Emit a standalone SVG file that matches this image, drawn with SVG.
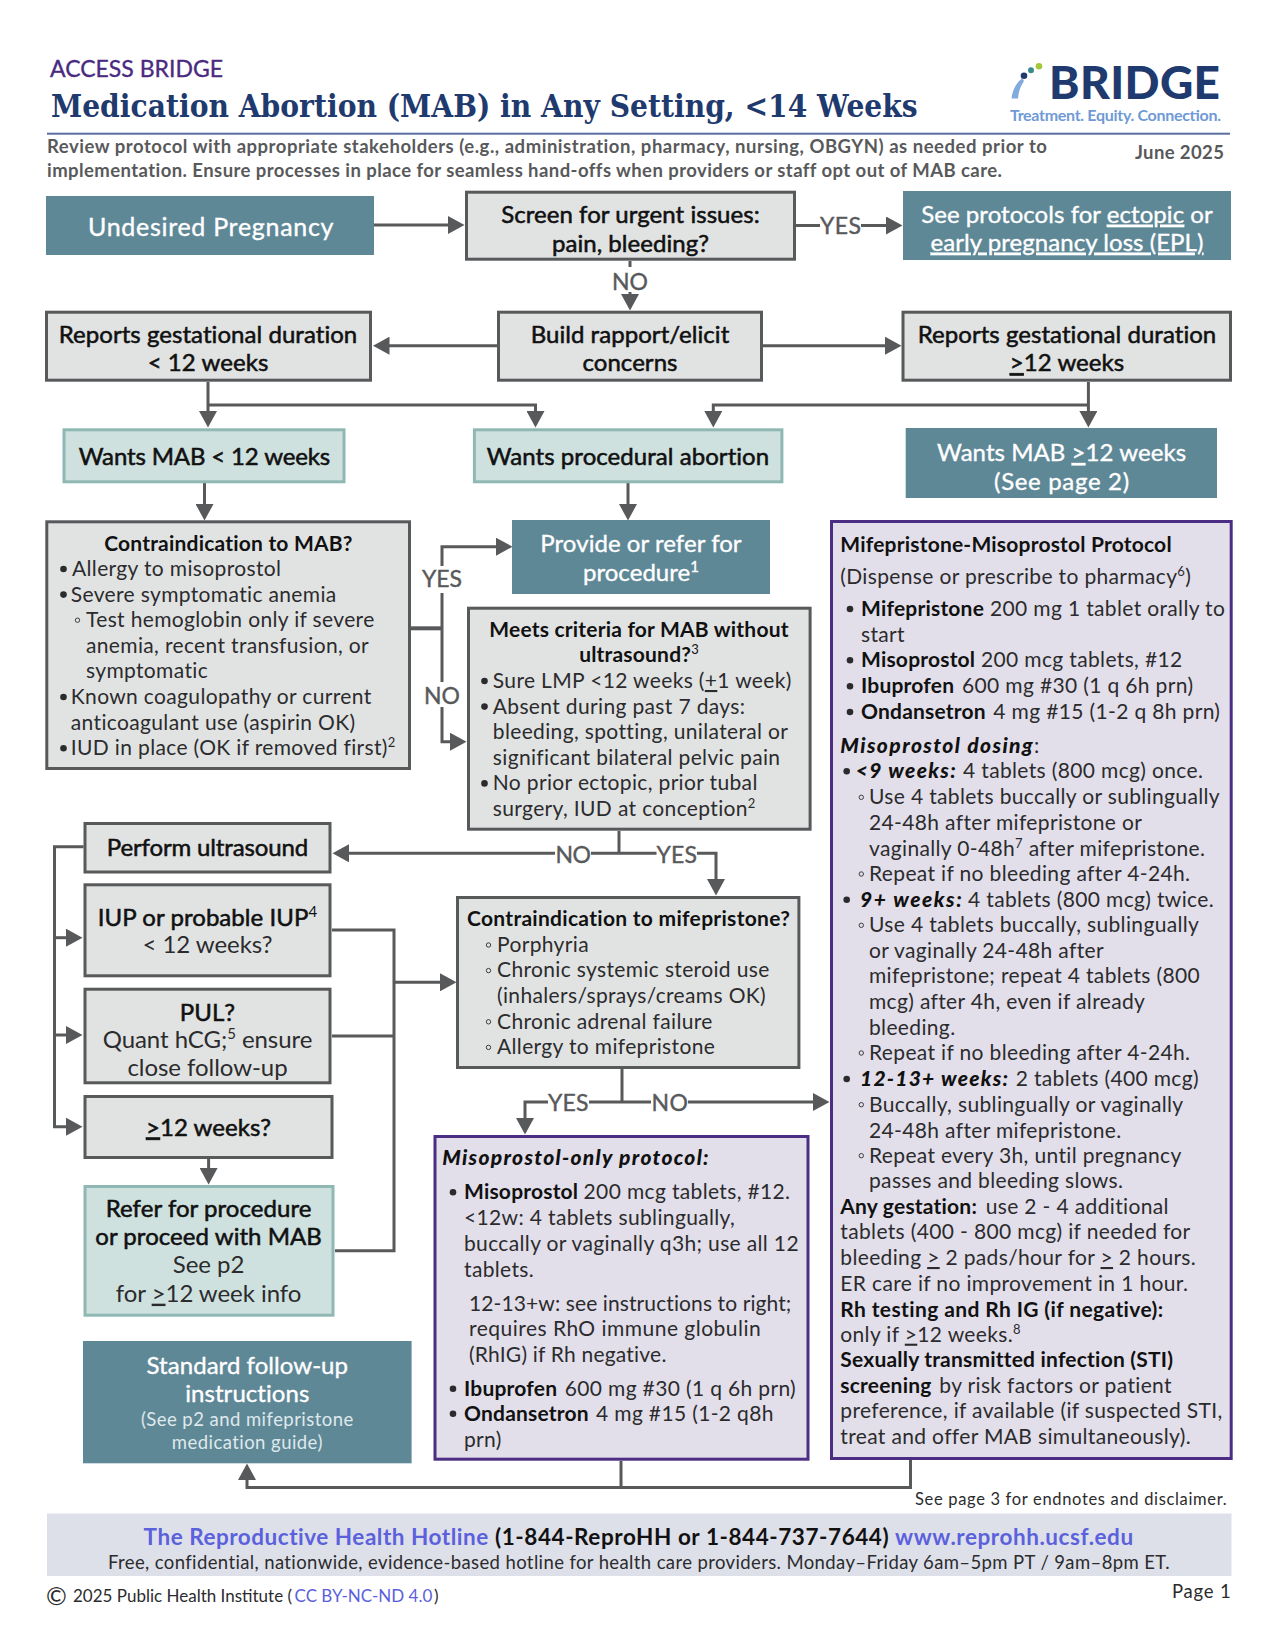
<svg xmlns="http://www.w3.org/2000/svg" width="1277" height="1652" viewBox="0 0 1277 1652">
<style>
text{font-family:Lato,"Liberation Sans",sans-serif;fill:#2b2b2d;font-size:21px;letter-spacing:.35px}
.c{text-anchor:middle}
.h{font-size:24px;fill:#111;stroke:#111;stroke-width:.55px;letter-spacing:.05px}
.m{font-size:24px;letter-spacing:-.05px}
.w{font-size:24px;fill:#fff;stroke:#fff;stroke-width:.35px;letter-spacing:.05px}
.t{font-size:21px;font-weight:700;fill:#111;letter-spacing:.2px}
.l{font-size:23px;fill:#58595b;stroke:#58595b;stroke-width:.4px;letter-spacing:0}
.s{font-weight:700;fill:#111;letter-spacing:.2px}
.si{font-weight:900;font-style:italic;fill:#111;letter-spacing:0}
.u{text-decoration:underline}
.box{fill:#e1e3e3;stroke:#58595b;stroke-width:3}
.teal{fill:#5f8897}
.mint{fill:#cfe1df;stroke:#8fb8b4;stroke-width:3}
.lav{fill:#e2dfea;stroke:#4b2e83;stroke-width:3}
.cn{fill:none;stroke:#58595b;stroke-width:3}
.ar{fill:#58595b}
.dot{fill:#2b2b2d}
.sub{fill:none;stroke:#2b2b2d;stroke-width:.9}
.gray{fill:#58595b;font-weight:700;font-size:18.5px;letter-spacing:.1px}
.blue{fill:#5b60dd}
.sup{font-size:13px}
.small{font-size:18.5px;fill:#dfe9ec;letter-spacing:.45px}
</style>
<defs>
<marker id="a" markerUnits="userSpaceOnUse" markerWidth="17" markerHeight="18" viewBox="0 0 17 18" refX="1" refY="9" orient="auto"><polygon class="ar" points="0,0 16.5,9 0,18"/></marker>
</defs>

<g id="header">
<text x="50" y="77" style="font-size:23px;fill:#4a2a80;stroke:#4a2a80;stroke-width:.35px;letter-spacing:0" textLength="173">ACCESS BRIDGE</text>
<text transform="translate(51 117) scale(.881 1)" style="font-family:'DejaVu Serif',serif;font-weight:700;font-size:32px;fill:#1f3a6e;letter-spacing:0">Medication Abortion (MAB) in Any Setting, &lt;14 Weeks</text>
<rect x="47" y="132.7" width="1183" height="2" fill="#5a6ea0"/>
<text class="gray" x="47" y="153" textLength="1000">Review protocol with appropriate stakeholders (e.g., administration, pharmacy, nursing, OBGYN) as needed prior to</text>
<text class="gray" x="47" y="176.5" textLength="955">implementation. Ensure processes in place for seamless hand-offs when providers or staff opt out of MAB care.</text>
<text class="gray" x="1135" y="158.5" textLength="89">June 2025</text>
</g>

<g id="logo">
<path d="M1011.5 98.5C1012.5 90 1016 83 1022 78.5C1024 80 1024 81 1023.5 82C1020 87 1018.5 92 1018 98.5Z" fill="#82aadc"/>
<circle cx="1039" cy="66.3" r="3.3" fill="#a3c93a"/>
<circle cx="1031" cy="70.3" r="3" fill="#3a8a8c"/>
<circle cx="1024" cy="75.7" r="3.3" fill="#1f3a6e"/>
<text x="1049" y="98.5" textLength="171" style="font-size:46px;font-weight:900;fill:#1f3a6e;letter-spacing:0">BRIDGE</text>
<text x="1010" y="120.7" textLength="211" style="font-size:16px;font-weight:700;fill:#6f9ad6;letter-spacing:0">Treatment. Equity. Connection.</text>
</g>

<g id="connectors">
<path class="cn" d="M374 225H449" marker-end="url(#a)"/>
<path class="cn" d="M796 225.5H820"/>
<path class="cn" d="M861 225.5H887" marker-end="url(#a)"/>
<path class="cn" d="M630 261V267"/>
<path class="cn" d="M630 292V295" marker-end="url(#a)"/>
<path class="cn" d="M497 345.7H388.5" marker-end="url(#a)"/>
<path class="cn" d="M763 345.7H886" marker-end="url(#a)"/>
<path class="cn" d="M208 382V412" marker-end="url(#a)"/>
<path class="cn" d="M208 405H535.5V412" marker-end="url(#a)"/>
<path class="cn" d="M1088.4 382V412" marker-end="url(#a)"/>
<path class="cn" d="M1088.4 405H713.3V412" marker-end="url(#a)"/>
<path class="cn" d="M204.5 483V505" marker-end="url(#a)"/>
<path class="cn" d="M628 483V505" marker-end="url(#a)"/>
<path class="cn" d="M411 628.3H442" style="stroke-width:4"/>
<path class="cn" d="M442 566V546.7H497" marker-end="url(#a)"/>
<path class="cn" d="M442 593V682"/>
<path class="cn" d="M442 707V741.7H451" marker-end="url(#a)"/>
<path class="cn" d="M619 831V853.3"/>
<path class="cn" d="M555 853.3H348" marker-end="url(#a)"/>
<path class="cn" d="M591 853.3H656.5"/>
<path class="cn" d="M697 853.3H716V880" marker-end="url(#a)"/>
<path class="cn" d="M83.6 846.7H54.5V1126.7H67" marker-end="url(#a)"/>
<path class="cn" d="M54.5 937.7H67" marker-end="url(#a)"/>
<path class="cn" d="M54.5 1035H67" marker-end="url(#a)"/>
<path class="cn" d="M332 930H394V1250.7H335"/>
<path class="cn" d="M332 1036H394"/>
<path class="cn" d="M394 982.3H441" marker-end="url(#a)"/>
<path class="cn" d="M622 1069V1102"/>
<path class="cn" d="M651 1102H589"/>
<path class="cn" d="M548 1102H525V1119" marker-end="url(#a)"/>
<path class="cn" d="M688 1102H814" marker-end="url(#a)"/>
<path class="cn" d="M208.6 1159V1169" marker-end="url(#a)"/>
<path class="cn" d="M621 1461V1487"/>
<path class="cn" d="M910.5 1459V1487.5H247V1479" marker-end="url(#a)"/>
<text class="l" x="820" y="234" textLength="41">YES</text>
<text class="l c" x="630" y="290">NO</text>
<text class="l c" x="442" y="587">YES</text>
<text class="l c" x="442" y="704">NO</text>
<text class="l" x="555.5" y="863" textLength="35.5">NO</text>
<text class="l" x="656.5" y="863" textLength="40.5">YES</text>
<text class="l" x="548" y="1111" textLength="40.5">YES</text>
<text class="l" x="651.5" y="1111" textLength="36.5">NO</text>
</g>

<g id="n-undesired"><rect class="teal" x="46" y="196" width="328" height="59"/><text class="w" x="88" y="235.5" textLength="245.5" style="font-size:25px">Undesired Pregnancy</text></g>
<g id="n-screen"><rect class="box" x="466.5" y="192.2" width="328" height="67"/><text class="h c" x="630.5" y="223.2">Screen for urgent issues:</text><text class="h c" x="630.5" y="251.5">pain, bleeding?</text></g>
<g id="n-protocols"><rect class="teal" x="903" y="191" width="328" height="69"/><text class="w c" x="1067" y="222.7">See protocols for <tspan class="u">ectopic</tspan> or</text><text class="w c u" x="1067" y="250.7">early pregnancy loss (EPL)</text></g>
<g id="n-reports-lt"><rect class="box" x="46.5" y="312.2" width="324" height="68"/><text class="h c" x="208" y="343.2">Reports gestational duration</text><text class="h c" x="208" y="371.2">&lt; 12 weeks</text></g>
<g id="n-build"><rect class="box" x="498.5" y="312.2" width="263" height="68"/><text class="h c" x="630" y="343.2">Build rapport/elicit</text><text class="h c" x="630" y="371.2">concerns</text></g>
<g id="n-reports-ge"><rect class="box" x="903" y="312.2" width="327.5" height="68"/><text class="h c" x="1067" y="343.2">Reports gestational duration</text><text class="h c" x="1067" y="371.2"><tspan class="u">&gt;</tspan>12 weeks</text></g>
<g id="n-wants-mab"><rect class="mint" x="64" y="429.8" width="280" height="52"/><text class="h c" x="204.5" y="465" textLength="251.5">Wants MAB &lt; 12 weeks</text></g>
<g id="n-wants-proc"><rect class="mint" x="474.4" y="429.8" width="307.5" height="52"/><text class="h c" x="628" y="465">Wants procedural abortion</text></g>
<g id="n-wants-ge"><rect class="teal" x="905.7" y="428" width="311.3" height="70"/><text class="w c" x="1061.6" y="461">Wants MAB <tspan class="u">&gt;</tspan>12 weeks</text><text class="w c" x="1061.6" y="489.5" textLength="135">(See page 2)</text></g>

<g id="n-contra-mab"><rect class="box" x="46.8" y="521.8" width="362.7" height="246.7"/>
<text class="t c" x="228.4" y="550.5">Contraindication to MAB?</text>
<circle class="dot" cx="63.5" cy="569" r="3.3"/><text x="72" y="576">Allergy to misoprostol</text>
<circle class="dot" cx="63.5" cy="594.6" r="3.3"/><text x="70.8" y="601.6">Severe symptomatic anemia</text>
<circle class="sub" cx="77.5" cy="620.2" r="2.2"/><text x="86" y="627.2">Test hemoglobin only if severe</text>
<text x="86" y="652.8">anemia, recent transfusion, or</text>
<text x="86" y="678.4">symptomatic</text>
<circle class="dot" cx="63.5" cy="697" r="3.3"/><text x="70.8" y="704">Known coagulopathy or current</text>
<text x="70.8" y="729.6">anticoagulant use (aspirin OK)</text>
<circle class="dot" cx="63.5" cy="748.2" r="3.3"/><text x="70.8" y="755.2">IUD in place (OK if removed first)<tspan class="sup" dy="-8">2</tspan></text></g>

<g id="n-provide"><rect class="teal" x="512" y="520" width="258" height="74"/><text class="w c" x="641" y="552.2">Provide or refer for</text><text class="w c" x="641" y="580.5">procedure<tspan dy="-9" style="font-size:15px">1</tspan></text></g>

<g id="n-meets"><rect class="box" x="468.5" y="608.2" width="341.6" height="221"/>
<text class="t c" x="639" y="636.7">Meets criteria for MAB without</text>
<text class="t c" x="639" y="662.3">ultrasound?<tspan class="sup" dy="-8" style="font-weight:400">3</tspan></text>
<circle class="dot" cx="484.5" cy="681" r="3.3"/><text x="492.8" y="688">Sure LMP &lt;12 weeks (<tspan class="u">+</tspan>1 week)</text>
<circle class="dot" cx="484.5" cy="706.6" r="3.3"/><text x="492.8" y="713.6">Absent during past 7 days:</text>
<text x="492.8" y="739.2">bleeding, spotting, unilateral or</text>
<text x="492.8" y="764.8">significant bilateral pelvic pain</text>
<circle class="dot" cx="484.5" cy="783.4" r="3.3"/><text x="492.8" y="790.4">No prior ectopic, prior tubal</text>
<text x="492.8" y="816">surgery, IUD at conception<tspan class="sup" dy="-8">2</tspan></text></g>

<g id="n-ultrasound"><rect class="box" x="85" y="823.5" width="245" height="48.5"/><text class="h c" x="207.5" y="856" textLength="201.5">Perform ultrasound</text></g>
<g id="n-iup"><rect class="box" x="85" y="884.8" width="245" height="91"/><text class="h c" x="207.5" y="925.5">IUP or probable IUP<tspan dy="-9" style="font-size:15px;stroke-width:0">4</tspan></text><text class="m c" x="207.5" y="953.3">&lt; 12 weeks?</text></g>
<g id="n-pul"><rect class="box" x="85" y="989.2" width="245" height="93.6"/><text class="h c" x="207.5" y="1020.5">PUL?</text><text class="m c" x="207.5" y="1047.7">Quant hCG;<tspan dy="-9" style="font-size:15px">5</tspan><tspan dy="9"> ensure</tspan></text><text class="m c" x="207.5" y="1076">close follow-up</text></g>
<g id="n-ge12"><rect class="box" x="85" y="1096.5" width="247" height="61"/><text class="h c" x="208.5" y="1135.5"><tspan class="u">&gt;</tspan>12 weeks?</text></g>
<g id="n-refer"><rect class="mint" x="85" y="1186.5" width="248" height="128.7"/><text class="h c" x="208.6" y="1216.7">Refer for procedure</text><text class="h c" x="208.6" y="1245">or proceed with MAB</text><text class="m c" x="208.6" y="1273.3">See p2</text><text class="m c" x="208.6" y="1301.7">for <tspan class="u">&gt;</tspan>12 week info</text></g>
<g id="n-followup"><rect class="teal" x="83" y="1341" width="328.6" height="122.3"/><text class="w c" x="247.3" y="1374">Standard follow-up</text><text class="w c" x="247.3" y="1401.7">instructions</text><text class="small c" x="247.3" y="1426">(See p2 and mifepristone</text><text class="small c" x="247.3" y="1449.3">medication guide)</text></g>

<g id="n-contra-mife"><rect class="box" x="457.5" y="897.5" width="341.4" height="170"/>
<text class="t" x="467" y="926" textLength="323">Contraindication to mifepristone?</text>
<circle class="sub" cx="488.5" cy="945" r="2.2"/><text x="497" y="951.7">Porphyria</text>
<circle class="sub" cx="488.5" cy="970.6" r="2.2"/><text x="497" y="977.3">Chronic systemic steroid use</text>
<text x="497" y="1002.9">(inhalers/sprays/creams OK)</text>
<circle class="sub" cx="488.5" cy="1021.8" r="2.2"/><text x="497" y="1028.5">Chronic adrenal failure</text>
<circle class="sub" cx="488.5" cy="1047.4" r="2.2"/><text x="497" y="1054">Allergy to mifepristone</text></g>

<g id="n-miso-only"><rect class="lav" x="435" y="1136.5" width="373" height="322.7"/>
<text class="si" x="442.2" y="1165" textLength="266.4">Misoprostol-only protocol:</text>
<circle class="dot" cx="453" cy="1192.3" r="3.3"/><text class="s" x="464" y="1199.3">Misoprostol</text><text x="583.6" y="1199.3">200 mcg tablets, #12.</text>
<text x="464" y="1225.3">&lt;12w: 4 tablets sublingually,</text>
<text x="464" y="1251">buccally or vaginally q3h; use all 12</text>
<text x="464" y="1276.7">tablets.</text>
<text x="469" y="1311" textLength="322.7">12-13+w: see instructions to right;</text>
<text x="469" y="1336" textLength="292">requires RhO immune globulin</text>
<text x="469" y="1362" textLength="197.7">(RhIG) if Rh negative.</text>
<circle class="dot" cx="453" cy="1388.7" r="3.3"/><text class="s" x="464" y="1395.7">Ibuprofen</text><text x="564.7" y="1395.7">600 mg #30 (1 q 6h prn)</text>
<circle class="dot" cx="453" cy="1413.7" r="3.3"/><text class="s" x="464" y="1420.7">Ondansetron</text><text x="596" y="1420.7">4 mg #15 (1-2 q8h</text>
<text x="464" y="1446.7">prn)</text></g>

<g id="n-mife-miso"><rect class="lav" x="831.5" y="521.5" width="399.7" height="937"/>
<text class="t" x="840.3" y="551.7">Mifepristone-Misoprostol Protocol</text>
<text x="840.3" y="584">(Dispense or prescribe to pharmacy<tspan class="sup" dy="-8">6</tspan><tspan dy="8">)</tspan></text>
<circle class="dot" cx="850" cy="609" r="3.3"/><text class="s" x="861" y="616">Mifepristone</text><text x="990" y="616">200 mg 1 tablet orally to</text>
<text x="861" y="641.7">start</text>
<circle class="dot" cx="850" cy="660.3" r="3.3"/><text class="s" x="861" y="667.3">Misoprostol</text><text x="981" y="667.3">200 mcg tablets, #12</text>
<circle class="dot" cx="850" cy="686.3" r="3.3"/><text class="s" x="861" y="693.3">Ibuprofen</text><text x="962" y="693.3">600 mg #30 (1 q 6h prn)</text>
<circle class="dot" cx="850" cy="712" r="3.3"/><text class="s" x="861" y="719">Ondansetron</text><text x="993.3" y="719">4 mg #15 (1-2 q 8h prn)</text>
<text class="si" x="840.3" y="752.7" textLength="192.4">Misoprostol dosing</text><text x="1034" y="752.7">:</text>
<circle class="dot" cx="846.7" cy="771.3" r="3.3"/><text class="si" x="855.7" y="778.3" textLength="100">&lt;9 weeks:</text><text x="963" y="778.3">4 tablets (800 mcg) once.</text>
<circle class="sub" cx="861.3" cy="797.3" r="2.2"/><text x="869" y="804.3">Use 4 tablets buccally or sublingually</text>
<text x="869" y="830">24-48h after mifepristone or</text>
<text x="869" y="855.7">vaginally 0-48h<tspan class="sup" dy="-8">7</tspan><tspan dy="8"> after mifepristone.</tspan></text>
<circle class="sub" cx="861.3" cy="874" r="2.2"/><text x="869" y="881">Repeat if no bleeding after 4-24h.</text>
<circle class="dot" cx="846.7" cy="899.7" r="3.3"/><text class="si" x="860" y="906.7" textLength="101.7">9+ weeks:</text><text x="968" y="906.7">4 tablets (800 mcg) twice.</text>
<circle class="sub" cx="861.3" cy="925.3" r="2.2"/><text x="869" y="932.3">Use 4 tablets buccally, sublingually</text>
<text x="869" y="958">or vaginally 24-48h after</text>
<text x="869" y="983.3">mifepristone; repeat 4 tablets (800</text>
<text x="869" y="1009.3">mcg) after 4h, even if already</text>
<text x="869" y="1035">bleeding.</text>
<circle class="sub" cx="861.3" cy="1053" r="2.2"/><text x="869" y="1060">Repeat if no bleeding after 4-24h.</text>
<circle class="dot" cx="846.7" cy="1079" r="3.3"/><text class="si" x="860" y="1086" textLength="148">12-13+ weeks:</text><text x="1015.7" y="1086">2 tablets (400 mcg)</text>
<circle class="sub" cx="861.3" cy="1104.7" r="2.2"/><text x="869" y="1111.7">Buccally, sublingually or vaginally</text>
<text x="869" y="1137.7">24-48h after mifepristone.</text>
<circle class="sub" cx="861.3" cy="1155.7" r="2.2"/><text x="869" y="1162.7">Repeat every 3h, until pregnancy</text>
<text x="869" y="1188.3">passes and bleeding slows.</text>
<text class="s" x="840.3" y="1214.3">Any gestation:</text><text x="985.7" y="1214.3">use 2 - 4 additional</text>
<text x="840.3" y="1239.3">tablets (400 - 800 mcg) if needed for</text>
<text x="840.3" y="1265">bleeding <tspan class="u">&gt;</tspan> 2 pads/hour for <tspan class="u">&gt;</tspan> 2 hours.</text>
<text x="840.3" y="1290.7">ER care if no improvement in 1 hour.</text>
<text class="t" x="840.3" y="1316.7" textLength="323">Rh testing and Rh IG (if negative):</text>
<text x="840.3" y="1341.7">only if <tspan class="u">&gt;</tspan>12 weeks.<tspan class="sup" dy="-8">8</tspan></text>
<text class="t" x="840.3" y="1367.3">Sexually transmitted infection (STI)</text>
<text class="s" x="840.3" y="1392.7">screening</text><text x="939.3" y="1392.7">by risk factors or patient</text>
<text x="840.3" y="1418.3">preference, if available (if suspected STI,</text>
<text x="840.3" y="1444">treat and offer MAB simultaneously).</text></g>

<g id="footer">
<text x="915" y="1505" textLength="312" style="font-size:16.5px">See page 3 for endnotes and disclaimer.</text>
<rect x="47" y="1513.5" width="1184.5" height="62.5" fill="#dee0e9"/>
<text class="blue" x="143.6" y="1544.5" textLength="345" style="font-size:22.5px;font-weight:700">The Reproductive Health Hotline</text>
<text x="495" y="1544.5" textLength="394" style="font-size:22.5px;font-weight:700;fill:#111">(1-844-ReproHH or 1-844-737-7644)</text>
<text class="blue" x="895" y="1544.5" textLength="238.5" style="font-size:22.5px;font-weight:700">www.reprohh.ucsf.edu</text>
<text x="108" y="1568.5" textLength="1062" style="font-size:18.5px">Free, confidential, nationwide, evidence-based hotline for health care providers. Monday–Friday 6am–5pm PT / 9am–8pm ET.</text>
<text x="56.5" y="1605" class="c" style="font-size:25px">©</text>
<text x="73" y="1601.5" style="font-size:17px;letter-spacing:0">2025 Public Health Institute (</text>
<text class="blue" x="294.6" y="1601.5" textLength="138" style="font-size:17px">CC BY-NC-ND 4.0</text>
<text x="434" y="1601.5" style="font-size:17px">)</text>
<text x="1172" y="1598" textLength="59" style="font-size:18.5px">Page 1</text>
</g>
</svg>
